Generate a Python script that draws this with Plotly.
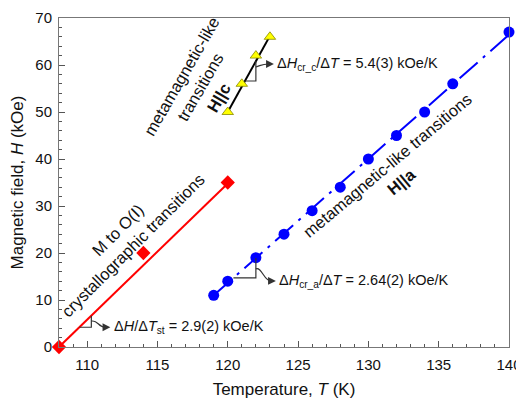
import plotly.graph_objects as go

# ---------------- data ----------------
T_a = [119, 120, 122, 124, 126, 128, 130, 132, 134, 136, 140]
H_a = [11, 14, 19, 24, 29, 34, 40, 45, 50, 56, 67]
T_c = [120, 121, 122, 123]
H_c = [50, 56, 62, 66]
T_st = [108, 114, 120]
H_st = [0, 20, 35]

# linear fits
slope_a, slope_c, slope_st = 2.64, 5.4, 2.9
fit_a_T = [119, 140]
fit_a_H = [11.0, 11.0 + slope_a * 21]
fit_c_T = [120, 123]
fit_c_H = [50.0, 50.0 + slope_c * 3]
fit_st_T = [108, 120]
fit_st_H = [0.0, slope_st * 12]

x_ticks = [110, 115, 120, 125, 130, 135, 140]
y_ticks = [0, 10, 20, 30, 40, 50, 60, 70]

FONT = "Liberation Sans, Arial, Helvetica, sans-serif"

fig = go.Figure()
fig.add_trace(go.Scatter(x=fit_st_T, y=fit_st_H, mode="lines",
                         line=dict(color="#ff0000", width=2), showlegend=False))
fig.add_trace(go.Scatter(x=fit_a_T, y=fit_a_H, mode="lines",
                         line=dict(color="#0000ff", width=2, dash="24px,7px,3px,7px"),
                         showlegend=False))
fig.add_trace(go.Scatter(x=fit_c_T, y=fit_c_H, mode="lines",
                         line=dict(color="#000000", width=2), showlegend=False))
fig.add_trace(go.Scatter(x=T_st, y=H_st, mode="markers", cliponaxis=False,
                         marker=dict(symbol="diamond", size=11, color="#ff0000"),
                         showlegend=False))
fig.add_trace(go.Scatter(x=T_a, y=H_a, mode="markers", cliponaxis=False,
                         marker=dict(symbol="circle", size=11, color="#0000ff"),
                         showlegend=False))
fig.add_trace(go.Scatter(x=T_c, y=H_c, mode="markers", cliponaxis=False,
                         marker=dict(symbol="triangle-up", size=10, color="#ffff00",
                                     line=dict(color="#888800", width=0.8)),
                         showlegend=False))

# pixel -> data scale
PX_T = 32 / 450.0
PX_H = 70 / 329.0

shapes = []
annots = []


def slope_mark(Tc, Hc, T0, H0, slope, y_start_px, dx_px, dy_px, label):
    # right-angle marker whose hypotenuse is the fit line
    T_left = T0 + (Hc - H0) / slope
    H_top = H0 + (Tc - T0) * slope
    path = f"M {T_left},{Hc} L {Tc},{Hc} L {Tc},{H_top}"
    shapes.append(dict(type="path", path=path, xref="x", yref="y",
                       line=dict(color="#333333", width=1.2)))
    # curved arrow
    Hs = Hc + y_start_px * PX_H
    Te = Tc + dx_px * PX_T
    He = Hs - dy_px * PX_H
    c1 = (Tc + 6 * PX_T, Hs + 2 * PX_H)
    c2 = (Te - 7 * PX_T, He)
    path2 = f"M {Tc},{Hs} C {c1[0]},{c1[1]} {c2[0]},{c2[1]} {Te},{He}"
    shapes.append(dict(type="path", path=path2, xref="x", yref="y",
                       line=dict(color="#333333", width=1.2)))
    tipT = Te + 5 * PX_T
    annots.append(dict(x=tipT, y=He, xref="x", yref="y", text="", showarrow=True,
                       ax=-7, ay=0, arrowhead=2, arrowsize=1.3, arrowwidth=1.2,
                       arrowcolor="#333333"))
    annots.append(dict(x=tipT + 1.5 * PX_T, y=He, xref="x", yref="y", text=label,
                       showarrow=False, xanchor="left", yanchor="middle",
                       font=dict(family=FONT, size=14.5, color="#111111")))


slope_mark(110.3, 4.2, fit_st_T[0], fit_st_H[0], slope_st, 6, 14, 6,
           "Δ<i>H</i>/Δ<i>T</i><sub>st</sub> = 2.9(2) kOe/K")
slope_mark(122.0, 14.7, fit_a_T[0], fit_a_H[0], slope_a, 9, 15, 12,
           "Δ<i>H</i><sub>cr_a</sub>/Δ<i>T</i> = 2.64(2) kOe/K")
slope_mark(122.0, 56.6, fit_c_T[0], fit_c_H[0], slope_c, 14, 13, -3,
           "Δ<i>H</i><sub>cr_c</sub>/Δ<i>T</i> = 5.4(3) kOe/K")

# rotated labels
LBL = 16.5
annots.append(dict(x=118.0, y=55.3, xref="x", yref="y", showarrow=False,
                   text="metamagnetic-like<br>transitions<br><b>H||c</b>",
                   textangle=-60, xanchor="center", yanchor="middle",
                   font=dict(family=FONT, size=LBL, color="#111111")))
annots.append(dict(x=112.7, y=23.3, xref="x", yref="y", showarrow=False,
                   text="M to O(I)<br>crystallographic transitions",
                   textangle=-45, xanchor="center", yanchor="middle",
                   font=dict(family=FONT, size=LBL, color="#111111")))
annots.append(dict(x=131.8, y=37.0, xref="x", yref="y", showarrow=False,
                   text="metamagnetic-like transitions<br><b>H||a</b>",
                   textangle=-40, xanchor="center", yanchor="middle",
                   font=dict(family=FONT, size=LBL, color="#111111")))

axis_common = dict(showline=True, linecolor="#777777", linewidth=1, mirror=True,
                   ticks="inside", ticklen=6, tickwidth=1, tickcolor="#555555",
                   showgrid=False, zeroline=False, automargin=False,
                   ticklabeloverflow="allow",
                   tickfont=dict(family=FONT, size=15, color="#111111"))

# page body has an 8px margin: figure is 516x397 so the plot lands where the reference has it
fig.update_layout(
    width=516, height=397,
    margin=dict(l=51, r=15, t=10, b=58, autoexpand=False),
    paper_bgcolor="white", plot_bgcolor="white",
    shapes=shapes, annotations=annots,
    xaxis=dict(range=[108, 140], tickvals=x_ticks,
               minor=dict(dtick=1, tick0=108, ticks="inside", ticklen=3, tickcolor="#555555"),
               title=dict(text="Temperature, <i>T</i> (K)", standoff=11,
                          font=dict(family=FONT, size=17, color="#111111")),
               ticklabelstandoff=4,
               **axis_common),
    yaxis=dict(range=[0, 70], tickvals=y_ticks,
               minor=dict(dtick=2, tick0=0, ticks="inside", ticklen=3, tickcolor="#555555"),
               title=dict(text="Magnetic field, <i>H</i> (kOe)", standoff=7,
                          font=dict(family=FONT, size=17, color="#111111")),
               ticklabelstandoff=3,
               **axis_common),
)

fig.write_html("out.html")
